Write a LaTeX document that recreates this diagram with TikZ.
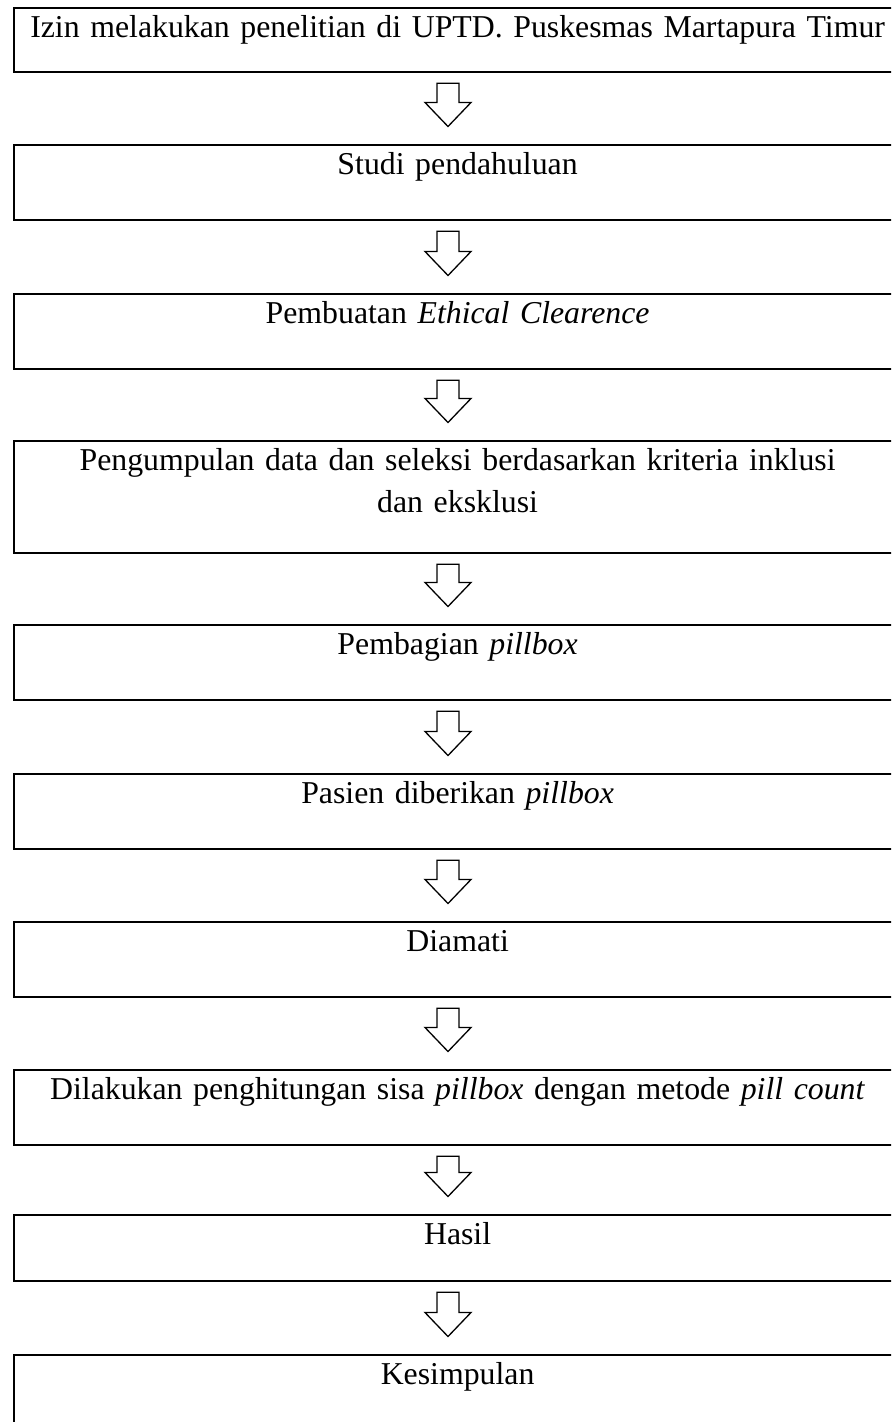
\documentclass[tikz,border=0pt]{standalone}
\usepackage{fontspec}
\setmainfont{Liberation Serif}
\usetikzlibrary{calc}

\tikzset{
	flowbox/.style={draw, line width=1.1pt, rectangle, anchor=north west, inner sep=0pt, text width=443.5pt, align=center, text height=14.75pt, text depth=#1, font=\fontsize{15.9pt}{21pt}\selectfont},
	arrowline/.style={draw, line width=0.65pt, line join=miter}
}
\newcommand{\Flow}[2]{%
	\draw[arrowline] ($(#1.south -| axis)+(-11,10)$) -- ($(#2.north -| axis)+(-11,-41.5)$) -- ++(-12,0) -- ($(#2.north -| axis)+(0,-17.5)$) -- ($(#2.north -| axis)+(23,-41.5)$) -- ++(-12,0) -- ($(#1.south -| axis)+(11,10)$) -- cycle;}

\begin{document}
\begin{tikzpicture}[x=0.5pt,y=-0.5pt]
		\useasboundingbox (0,0) rectangle (891,1422);
		\clip (0,0) rectangle (891,1422);
		\coordinate (axis) at (448,0);
		\node[flowbox=17.25pt] (izin) at (13,7) {Izin melakukan penelitian di UPTD. Puskesmas Martapura Timur};
		\node[flowbox=22.75pt] (studi) at (13,144) {Studi pendahuluan};
		\node[flowbox=22.75pt] (ethic) at (13,293) {Pembuatan \textit{Ethical Clearence}};
		\node[flowbox=41.25pt] (data) at (13,440) {Pengumpulan data dan seleksi berdasarkan kriteria inklusi\\dan eksklusi};
		\node[flowbox=22.75pt] (bagi) at (13,624) {Pembagian \textit{pillbox}};
		\node[flowbox=22.75pt] (beri) at (13,773) {Pasien diberikan \textit{pillbox}};
		\node[flowbox=22.75pt] (amati) at (13,921) {Diamati};
		\node[flowbox=22.75pt] (hitung) at (13,1069) {Dilakukan penghitungan sisa \textit{pillbox} dengan metode \textit{pill count}};
		\node[flowbox=18.25pt] (hasil) at (13,1214) {Hasil};
		\node[flowbox=22.75pt] (simpul) at (13,1354) {Kesimpulan};
		\Flow{izin}{studi}
		\Flow{studi}{ethic}
		\Flow{ethic}{data}
		\Flow{data}{bagi}
		\Flow{bagi}{beri}
		\Flow{beri}{amati}
		\Flow{amati}{hitung}
		\Flow{hitung}{hasil}
		\Flow{hasil}{simpul}
	\end{tikzpicture}
\end{document}
